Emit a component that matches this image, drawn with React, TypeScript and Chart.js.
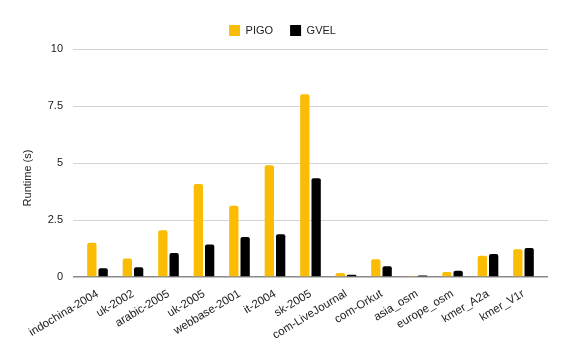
import { useEffect, useRef } from "react";
import { Chart, registerables } from "chart.js";

Chart.register(...registerables);

const categories = [
  "indochina-2004",
  "uk-2002",
  "arabic-2005",
  "uk-2005",
  "webbase-2001",
  "it-2004",
  "sk-2005",
  "com-LiveJournal",
  "com-Orkut",
  "asia_osm",
  "europe_osm",
  "kmer_A2a",
  "kmer_V1r",
];
const pigo = [1.5, 0.81, 2.05, 4.08, 3.13, 4.9, 8.01, 0.18, 0.78, 0.04, 0.22, 0.93, 1.22];
const gvel = [0.38, 0.43, 1.05, 1.43, 1.75, 1.87, 4.33, 0.1, 0.47, 0.07, 0.27, 1.01, 1.27];
const yTicks = [0, 2.5, 5, 7.5, 10];
const seriesNames = ["PIGO", "GVEL"];
const seriesColors = ["#fbbc04", "#000000"];
const yTitle = "Runtime (s)";

const FONT = '"Liberation Sans", Arial, sans-serif';
const TEXT = "#222222";

const yTitlePlugin = {
  id: "yTitlePlugin",
  afterDraw(chart: any) {
    const ctx = chart.ctx;
    const area = chart.chartArea;
    ctx.save();
    ctx.font = `11px ${FONT}`;
    ctx.fillStyle = TEXT;
    ctx.textAlign = "center";
    ctx.textBaseline = "middle";
    ctx.translate(area.left - 45, (area.top + area.bottom) / 2 + 15);
    ctx.rotate(-Math.PI / 2);
    ctx.fillText(yTitle, 0, 0);
    ctx.restore();
  },
};

export default function App() {
  const ref = useRef<HTMLCanvasElement | null>(null);
  useEffect(() => {
    if (!ref.current) return;
    const chart = new Chart(ref.current, {
      type: "bar",
      data: {
        labels: categories,
        datasets: [
          {
            label: seriesNames[0],
            data: pigo,
            backgroundColor: seriesColors[0],
            borderRadius: 2,
            categoryPercentage: 0.637,
            barPercentage: 0.823,
          },
          {
            label: seriesNames[1],
            data: gvel,
            backgroundColor: seriesColors[1],
            borderRadius: 2,
            categoryPercentage: 0.637,
            barPercentage: 0.823,
          },
        ],
      },
      options: {
        responsive: false,
        animation: false,
        layout: { padding: { top: 8, right: 0, bottom: 0, left: 0 } },
        plugins: {
          legend: {
            position: "top",
            labels: {
              boxWidth: 11,
              boxHeight: 11,
              padding: 17,
              color: TEXT,
              font: { family: FONT, size: 11 },
            },
          },
          subtitle: {
            display: true,
            position: "top",
            weight: 500,
            text: " ",
            padding: 0,
            font: { size: 3, lineHeight: 1 },
          } as any,
          tooltip: { enabled: false },
        },
        scales: {
          x: {
            grid: { display: false },
            border: { display: false },
            afterBuildTicks: (s: any) => {
              s._startValue -= 0.19;
              s._valueRange += 0.38;
            },
            afterFit: (s: any) => {
              s.height = 72;
            },
            ticks: {
              minRotation: 31,
              maxRotation: 31,
              autoSkip: false,
              color: TEXT,
              padding: 2,
              font: { family: FONT, size: 11.5 },
            },
          },
          y: {
            min: 0,
            max: 10,
            border: { display: false },
            grid: {
              drawTicks: false,
              color: (c: any) => (c.tick && c.tick.value === 0 ? "#8a8a8a" : "#d4d4d4"),
              lineWidth: (c: any) => (c.tick && c.tick.value === 0 ? 1.6 : 1),
            },
            afterBuildTicks: (s: any) => {
              s.ticks = yTicks.map((v) => ({ value: v }));
            },
            afterFit: (s: any) => {
              s.width = 73;
            },
            ticks: {
              color: TEXT,
              padding: 10,
              font: { family: FONT, size: 11 },
              callback: (v: any) => String(v),
            },
          },
          yRight: {
            type: "linear",
            position: "right",
            display: true,
            grid: { display: false },
            border: { display: false },
            ticks: { display: false },
            afterFit: (s: any) => {
              s.width = 17;
            },
          },
        },
      },
      plugins: [yTitlePlugin],
    });
    return () => chart.destroy();
  }, []);
  return (
    <div style={{ position: "fixed", left: 0, top: 0, width: 565, height: 349, background: "#fff" }}>
      <canvas ref={ref} width={565} height={349} />
    </div>
  );
}
